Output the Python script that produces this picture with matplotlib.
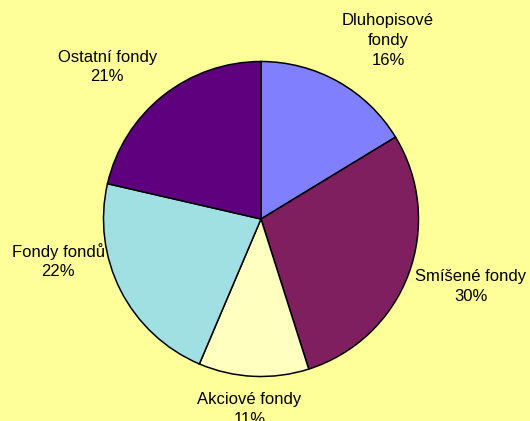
import numpy as np
import matplotlib.pyplot as plt

# data
labels = ['Dluhopisové\nfondy', 'Smíšené fondy', 'Akciové fondy', 'Fondy fondů', 'Ostatní fondy']
values = [16.3, 28.8, 11.3, 22.2, 21.4]          # wedge sizes as drawn
pct_text = ['16%', '30%', '11%', '22%', '21%']    # percentages printed on the chart
colors = ['#8080FF', '#7F1F5F', '#FFFFC0', '#A0E0E3', '#5F007F']

# label placement (radial factor, angle offset in degrees)
label_dist = [1.39, 1.40, 1.21, 1.314, 1.372]
label_rot = [-6.1, 2.7, -0.8, -15.3, 6.8]

bg = '#FFFF99'
W, H = 530, 421
cx, cy, R = 261, 219, 157.5

fig = plt.figure(figsize=(W / 100, H / 100), dpi=100, facecolor=bg)
ax = fig.add_axes([0, 0, 1, 1])
ax.set_facecolor(bg)

wedges, _ = ax.pie(values, colors=colors, startangle=90, counterclock=False,
                   radius=1, wedgeprops=dict(edgecolor='black', linewidth=1.1))

for w, lab, pct, d, rot in zip(wedges, labels, pct_text, label_dist, label_rot):
    ang = np.deg2rad((w.theta1 + w.theta2) / 2 + rot)
    ax.text(d * np.cos(ang), d * np.sin(ang), f'{lab}\n{pct}',
            ha='center', va='center', fontsize=12, family='Liberation Sans',
            linespacing=1.4, color='black')

ax.set_aspect('auto')
ax.set_xlim(-cx / R, (W - cx) / R)
ax.set_ylim(-(H - cy) / R, cy / R)
ax.axis('off')

fig.savefig('out.png', dpi=100, facecolor=bg)
